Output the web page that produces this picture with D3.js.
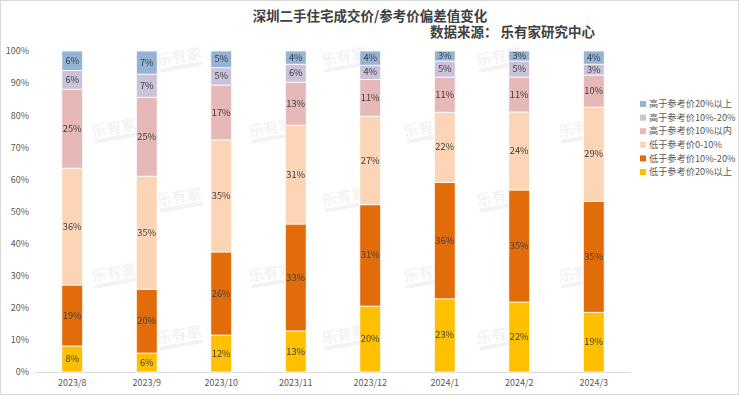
<!DOCTYPE html>
<html>
<head>
<meta charset="utf-8">
<script src="https://cdn.jsdelivr.net/npm/d3@7"></script>
<style>
  html, body { margin: 0; padding: 0; background: #fff; }
  svg { display: block; font-family: "Noto Sans CJK SC", "Noto Sans", sans-serif; }
</style>
</head>
<body>
<div id="chart"></div>
<script>
// months on the x axis
const months = ["2023/8", "2023/9", "2023/10", "2023/11", "2023/12", "2024/1", "2024/2", "2024/3"];

// series, bottom of the stack first (percent of deals)
const below20 = [8.1, 5.9, 11.5, 12.8, 20.4, 22.7, 21.8, 18.6];   // 低于参考价20%以上
const below10to20 = [19.0, 19.9, 25.9, 33.3, 31.4, 36.1, 34.9, 34.6]; // 低于参考价10%-20%
const below0to10 = [36.4, 35.2, 34.9, 30.8, 27.4, 21.8, 24.3, 29.3];  // 低于参考价0-10%
const aboveWithin10 = [24.6, 24.6, 17.1, 13.4, 11.4, 10.9, 10.9, 10.0]; // 高于参考价10%以内
const above10to20 = [5.8, 7.2, 5.4, 5.6, 4.4, 5.0, 5.0, 3.4];       // 高于参考价10%-20%
const above20 = [6.1, 7.2, 5.2, 4.1, 4.4, 3.1, 3.1, 4.1];           // 高于参考价20%以上

const seriesNames = ["低于参考价20%以上", "低于参考价10%-20%", "低于参考价0-10%",
  "高于参考价10%以内", "高于参考价10%-20%", "高于参考价20%以上"];
const seriesValues = [below20, below10to20, below0to10, aboveWithin10, above10to20, above20];
const seriesColors = ["#FFC000", "#E36C0A", "#FBD5B5", "#E6B9B8", "#CCC1DA", "#95B3D7"];

const yTicks = [0, 0.1, 0.2, 0.3, 0.4, 0.5, 0.6, 0.7, 0.8, 0.9, 1];

const width = 740, height = 396;
const marginLeft = 35, marginRight = 109, marginTop = 51, marginBottom = 24;

const table = months.map((m, i) => {
  const row = { month: m };
  seriesNames.forEach((s, j) => { row[s] = seriesValues[j][i]; });
  return row;
});

const stacked = d3.stack()
  .keys(seriesNames)
  .offset(d3.stackOffsetExpand)(table);

const x = d3.scaleBand()
  .domain(months)
  .range([marginLeft, width - marginRight])
  .paddingInner(0.72)
  .paddingOuter(0.36);

const y = d3.scaleLinear()
  .domain([0, 1])
  .range([height - marginBottom, marginTop]);

const color = d3.scaleOrdinal(seriesNames, seriesColors);

const svg = d3.select("#chart")
  .append("svg")
  .attr("width", width)
  .attr("height", height)
  .attr("viewBox", [0, 0, width, height]);

// outer frame
svg.append("rect")
  .attr("x", 0.5).attr("y", 0.5)
  .attr("width", width - 2).attr("height", height - 2)
  .attr("fill", "#fff")
  .attr("stroke", "#d9d9d9");

// title
svg.append("text")
  .attr("x", width / 2)
  .attr("y", 20.5)
  .attr("text-anchor", "middle")
  .attr("font-size", "13.5px")
  .attr("font-weight", "bold")
  .attr("fill", "#404040")
  .text("深圳二手住宅成交价/参考价偏差值变化");

svg.append("text")
  .attr("x", 430)
  .attr("y", 36.5)
  .attr("font-size", "13.5px")
  .attr("font-weight", "bold")
  .attr("fill", "#404040")
  .text("数据来源： 乐有家研究中心");

// watermarks
const marks = [[115, 133], [272, 133], [427, 133], [582, 133],
  [115, 278], [272, 278], [427, 278], [582, 278],
  [180, 62], [345, 62], [500, 62],
  [180, 202], [345, 202], [500, 202],
  [180, 340], [345, 340], [500, 340]];
const wm = svg.append("g").attr("opacity", 0.1);
marks.forEach(([mx, my]) => {
  const g = wm.append("g").attr("transform", `translate(${mx},${my}) rotate(-10)`);
  g.append("text")
    .attr("text-anchor", "middle")
    .attr("font-size", "15px")
    .attr("font-weight", "bold")
    .attr("fill", "#808080")
    .text("乐有家");
  g.append("rect")
    .attr("x", -22).attr("y", 3)
    .attr("width", 44).attr("height", 4)
    .attr("rx", 2)
    .attr("fill", "#808080");
});

// y axis labels, no line
const yAxis = d3.axisLeft(y)
  .tickValues(yTicks)
  .tickFormat(d3.format(".0%"))
  .tickSize(0)
  .tickPadding(0);

svg.append("g")
  .attr("transform", `translate(29,0)`)
  .call(yAxis)
  .call(g => g.select(".domain").remove())
  .call(g => g.selectAll("text")
    .attr("font-size", "9px")
    .attr("fill", "#595959")
    .attr("font-family", "\"Noto Sans CJK SC\", sans-serif"));

// x axis
const xAxis = d3.axisBottom(x).tickSize(0).tickPadding(8);

svg.append("g")
  .attr("transform", `translate(0,${height - marginBottom})`)
  .call(xAxis)
  .call(g => g.select(".domain")
    .attr("stroke", "#d9d9d9")
    .attr("d", `M${marginLeft},0.5H${width - marginRight}`))
  .call(g => g.selectAll("text")
    .attr("font-size", "9px")
    .attr("fill", "#595959")
    .attr("font-family", "\"Noto Sans CJK SC\", sans-serif"));

// stacked bars
const layers = svg.append("g")
  .selectAll("g")
  .data(stacked)
  .join("g")
  .attr("fill", d => color(d.key));

layers.selectAll("rect")
  .data(d => d)
  .join("rect")
  .attr("x", d => x(d.data.month))
  .attr("y", d => y(d[1]))
  .attr("width", x.bandwidth())
  .attr("height", d => y(d[0]) - y(d[1]))
  .attr("stroke", "#fff")
  .attr("stroke-width", 0.8);

// value labels
const labels = svg.append("g")
  .attr("font-size", "9.3px")
  .attr("fill", "#404040")
  .attr("text-anchor", "middle");

stacked.forEach(layer => {
  layer.forEach(d => {
    labels.append("text")
      .attr("x", x(d.data.month) + x.bandwidth() / 2)
      .attr("y", y((d[0] + d[1]) / 2))
      .attr("dy", "0.33em")
      .text(Math.round(d.data[layer.key]) + "%");
  });
});

// legend, top series first
const legendItems = seriesNames.slice().reverse();
const legend = svg.append("g")
  .attr("transform", "translate(640,104)");

legendItems.forEach((name, i) => {
  const row = legend.append("g").attr("transform", `translate(0,${i * 13.6})`);
  row.append("rect")
    .attr("x", 0).attr("y", -3)
    .attr("width", 6).attr("height", 6)
    .attr("fill", color(name));
  row.append("text")
    .attr("x", 9)
    .attr("dy", "0.35em")
    .attr("font-size", "9.2px")
    .attr("fill", "#595959")
    .text(name);
});
</script>
</body>
</html>
